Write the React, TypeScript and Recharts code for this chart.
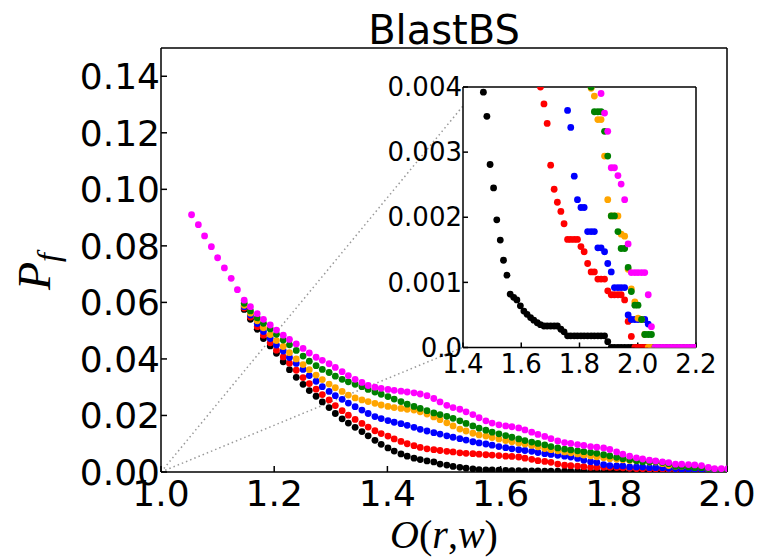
import { ScatterChart, Scatter, XAxis, YAxis, ReferenceLine, CartesianGrid } from 'recharts'

// O(r,w) sample positions shared by every series
const O_GRID = [
  1.054, 1.066, 1.077, 1.089, 1.100, 1.112, 1.124, 1.135, 1.147, 1.158,
  1.170, 1.181, 1.193, 1.204, 1.216, 1.227, 1.239, 1.251, 1.262, 1.274,
  1.285, 1.297, 1.308, 1.320, 1.331, 1.343, 1.355, 1.366, 1.378, 1.389,
  1.401, 1.412, 1.424, 1.435, 1.447, 1.458, 1.470, 1.482, 1.493, 1.505,
  1.516, 1.528, 1.539, 1.551, 1.562, 1.574, 1.585, 1.597, 1.609, 1.620,
  1.632, 1.643, 1.655, 1.666, 1.678, 1.689, 1.701, 1.713, 1.724, 1.736,
  1.747, 1.759, 1.770, 1.782, 1.793, 1.805, 1.816, 1.828, 1.840, 1.851,
  1.863, 1.874, 1.886, 1.897, 1.909, 1.920, 1.932, 1.943, 1.955, 1.967,
  1.978, 1.990, 2.001, 2.013, 2.024, 2.036, 2.047, 2.059, 2.070, 2.082,
  2.093, 2.105, 2.116, 2.128, 2.140, 2.151, 2.163, 2.174, 2.186, 2.197,
]

const pfBlack = [
  null, null, null, null, null, null, null, null, 0.0575, 0.0540,
  0.0505, 0.0472, 0.0446, 0.0420, 0.0390, 0.0362, 0.0335, 0.0310, 0.0288, 0.0268,
  0.0248, 0.0228, 0.0207, 0.0188, 0.0173, 0.0158, 0.0143, 0.0128, 0.0112, 0.0098,
  0.0085, 0.0074, 0.0064, 0.0056, 0.0049, 0.0044, 0.00392, 0.00355, 0.00281, 0.00245,
  0.00196, 0.00165, 0.00134, 0.00111, 0.00082, 0.00077, 0.00073, 0.00064, 0.00056, 0.00051,
  0.00046, 0.00042, 0.00038, 0.00035, 0.00033, 0.00033, 0.00033, 0.00033, 0.00033, 0.00028,
  0.00024, 0.00018, 0.00018, 0.00018, 0.00018, 0.00018, 0.00018, 0.00018, 0.00018, 0.00018,
  0.00018, 0.00018, 0.00018, 0.00009, 0, 0, 0, 0, 0, 0,
  0, 0, 0, 0, 0, 0, 0, 0, 0, 0,
  0, 0, 0, 0, 0, 0, 0, 0, 0, 0,
]

const pfRed = [
  null, null, null, null, null, null, null, null, 0.0580, 0.0548,
  0.0514, 0.0484, 0.0457, 0.0431, 0.0407, 0.0385, 0.0360, 0.0334, 0.0313, 0.0293,
  0.0274, 0.0255, 0.0235, 0.0217, 0.0201, 0.0186, 0.0172, 0.0159, 0.0146, 0.0136,
  0.0127, 0.0117, 0.0108, 0.0100, 0.0093, 0.0087, 0.0082, 0.0079, 0.0076, 0.0073,
  0.0071, 0.0068, 0.0066, 0.0065, 0.0063, 0.0061, 0.0060, 0.0058, 0.0056, 0.0055,
  0.0053, 0.0049, 0.0045, 0.0040, 0.00374, 0.00344, 0.00280, 0.00243, 0.00223, 0.00209,
  0.00190, 0.00166, 0.00166, 0.00166, 0.00166, 0.00155, 0.00147, 0.00129, 0.00116, 0.00116,
  0.00105, 0.00105, 0.00105, 0.00087, 0.00081, 0.00081, 0.00081, 0.00081, 0.00073, 0.00040,
  0.00017, 0, 0, 0, 0, 0, 0, 0, 0, 0,
  0, 0, 0, 0, 0, 0, 0, 0, 0, 0,
]

const pfBlue = [
  null, null, null, null, null, null, null, null, 0.0585, 0.0555,
  0.0525, 0.0497, 0.0472, 0.0449, 0.0428, 0.0405, 0.0384, 0.0363, 0.0341, 0.0321,
  0.0302, 0.0285, 0.0270, 0.0257, 0.0244, 0.0231, 0.0219, 0.0207, 0.0196, 0.0189,
  0.0182, 0.0176, 0.0171, 0.0165, 0.0158, 0.0151, 0.0145, 0.0139, 0.0134, 0.0128,
  0.0123, 0.0118, 0.0113, 0.0107, 0.0103, 0.0099, 0.0095, 0.0090, 0.0086, 0.0082,
  0.0079, 0.0076, 0.0073, 0.0069, 0.0065, 0.0062, 0.0059, 0.0056, 0.0053, 0.0048,
  0.0042, 0.00364, 0.00338, 0.00263, 0.00227, 0.00215, 0.00215, 0.00178, 0.00178, 0.00178,
  0.00153, 0.00153, 0.00147, 0.00129, 0.00116, 0.00092, 0.00092, 0.00092, 0.00092, 0.00050,
  0.00043, 0.00043, 0.00043, 0.00043, 0.00043, 0.00036, 0, 0, 0, 0,
  0, 0, 0, 0, 0, 0, 0, 0, 0, 0,
]

const pfOrange = [
  null, null, null, null, null, null, null, null, 0.0590, 0.0562,
  0.0535, 0.0510, 0.0486, 0.0465, 0.0444, 0.0422, 0.0400, 0.0380, 0.0362, 0.0343,
  0.0327, 0.0311, 0.0298, 0.0285, 0.0272, 0.0262, 0.0255, 0.0249, 0.0243, 0.0237,
  0.0232, 0.0228, 0.0225, 0.0222, 0.0219, 0.0213, 0.0205, 0.0195, 0.0185, 0.0174,
  0.0163, 0.0152, 0.0145, 0.0137, 0.0131, 0.0127, 0.0122, 0.0117, 0.0111, 0.0107,
  0.0103, 0.0099, 0.0094, 0.0089, 0.0083, 0.0079, 0.0075, 0.0071, 0.0068, 0.0064,
  0.0060, 0.0057, 0.0054, 0.0050, 0.0047, 0.0045, 0.0043, 0.0041, 0.00398, 0.00386,
  0.00350, 0.00350, 0.00294, 0.00227, 0.00202, 0.00202, 0.00202, 0.00174, 0.00171, 0.00120,
  0.00090, 0.00070, 0.00045, 0.00043, 0.00020, 0, 0, 0, 0, 0,
  0, 0, 0, 0, 0, 0, 0, 0, 0, 0,
]

const pfGreen = [
  null, null, null, null, null, null, null, null, 0.0597, 0.0570,
  0.0545, 0.0526, 0.0506, 0.0487, 0.0467, 0.0450, 0.0430, 0.0410, 0.0392, 0.0376,
  0.0363, 0.0352, 0.0339, 0.0328, 0.0319, 0.0310, 0.0302, 0.0292, 0.0283, 0.0275,
  0.0267, 0.0258, 0.0249, 0.0240, 0.0232, 0.0225, 0.0217, 0.0209, 0.0203, 0.0197,
  0.0190, 0.0181, 0.0172, 0.0163, 0.0155, 0.0148, 0.0141, 0.0135, 0.0129, 0.0123,
  0.0117, 0.0111, 0.0106, 0.0101, 0.0096, 0.0090, 0.0085, 0.0081, 0.0078, 0.0075,
  0.0072, 0.0069, 0.0066, 0.0061, 0.0057, 0.0052, 0.0047, 0.0043, 0.0040, 0.00362,
  0.00362, 0.00362, 0.00332, 0.00294, 0.00202, 0.00202, 0.00178, 0.00152, 0.00152, 0.00123,
  0.00086, 0.00065, 0.00065, 0.00043, 0.00020, 0.00020, 0.00020, 0, 0, 0,
  0, 0, 0, 0, 0, 0, 0, 0, 0, 0,
]

const pfMagenta = [
  0.0910, 0.0875, 0.0835, 0.0797, 0.0758, 0.0722, 0.0685, 0.0645, 0.0608, 0.0585,
  0.0560, 0.0540, 0.0520, 0.0502, 0.0484, 0.0469, 0.0453, 0.0437, 0.0421, 0.0406,
  0.0395, 0.0383, 0.0370, 0.0355, 0.0341, 0.0328, 0.0317, 0.0306, 0.0300, 0.0296,
  0.0292, 0.0289, 0.0286, 0.0283, 0.0280, 0.0276, 0.0270, 0.0260, 0.0248, 0.0236,
  0.0228, 0.0222, 0.0213, 0.0203, 0.0192, 0.0181, 0.0173, 0.0167, 0.0163, 0.0160,
  0.0156, 0.0149, 0.0141, 0.0133, 0.0126, 0.0118, 0.0110, 0.0104, 0.0101, 0.0097,
  0.0094, 0.0090, 0.0088, 0.0085, 0.0080, 0.0071, 0.0063, 0.0056, 0.0050, 0.0046,
  0.0042, 0.0039, 0.0036, 0.00332, 0.00276, 0.00276, 0.00264, 0.00251, 0.00227, 0.00159,
  0.00115, 0.00115, 0.00115, 0.00115, 0.00115, 0.00081, 0.00032, 0, 0, 0,
  0, 0, 0, 0, 0, 0, 0, 0, 0, 0,
]

const MAIN_X_TICKS = [1.0, 1.2, 1.4, 1.6, 1.8, 2.0]
const MAIN_Y_TICKS = [0, 0.02, 0.04, 0.06, 0.08, 0.1, 0.12, 0.14]
const INSET_X_TICKS = [1.4, 1.6, 1.8, 2.0, 2.2]
const INSET_Y_TICKS = [0, 0.001, 0.002, 0.003, 0.004]

// dotted guides from the origin to the inset's left edge
const GUIDE_UPPER = [{ x: 1.0, y: 0 }, { x: 1.5336, y: 0.1295 }]
const GUIDE_LOWER = [{ x: 1.0, y: 0 }, { x: 1.5336, y: 0.0441 }]

const toPoints = (ys: (number | null)[]) =>
  ys.flatMap((y, i) => (y == null ? [] : [{ x: O_GRID[i], y }]))

// drawing order matters: later series sit on top
const series = [
  { key: 'black', color: '#000000', points: toPoints(pfBlack) },
  { key: 'red', color: '#ff0000', points: toPoints(pfRed) },
  { key: 'blue', color: '#0000ff', points: toPoints(pfBlue) },
  { key: 'orange', color: '#ffa500', points: toPoints(pfOrange) },
  { key: 'green', color: '#008000', points: toPoints(pfGreen) },
  { key: 'magenta', color: '#ff00ff', points: toPoints(pfMagenta) },
]

const dot = (color: string) =>
  // eslint-disable-next-line @typescript-eslint/no-explicit-any
  (props: any) => <circle cx={props.cx} cy={props.cy} r={3.4} fill={color} />

const frame = { stroke: '#000', strokeWidth: 1.5 }
const sans = 'DejaVu Sans'

export default function App() {
  return (
    <div style={{ position: 'absolute', left: 0, top: 0, width: 761, height: 560, background: '#fff' }}>
      {/* main panel */}
      <div style={{ position: 'absolute', left: 0, top: 0 }}>
        <ScatterChart width={761} height={560} margin={{ top: 47, right: 33, bottom: 0, left: 0 }}>
          <XAxis
            xAxisId="b" type="number" dataKey="x" domain={[1, 2]} ticks={MAIN_X_TICKS}
            allowDataOverflow interval={0} height={88} tickSize={-6} tickMargin={14}
            axisLine={frame} tickLine={frame}
            tick={{ fill: '#000', fontSize: 36, fontFamily: sans }}
            tickFormatter={(v: number) => v.toFixed(1)}
          />
          <XAxis
            xAxisId="t" orientation="top" type="number" domain={[1, 2]} ticks={MAIN_X_TICKS}
            allowDataOverflow interval={0} height={1} tickSize={-6}
            axisLine={frame} tickLine={frame} tick={false}
          />
          <YAxis
            yAxisId="l" type="number" dataKey="y" domain={[0, 0.15]} ticks={MAIN_Y_TICKS}
            allowDataOverflow interval={0} width={161} tickSize={-6} tickMargin={7}
            axisLine={frame} tickLine={frame}
            tick={{ fill: '#000', fontSize: 36, fontFamily: sans }}
            tickFormatter={(v: number) => v.toFixed(2)}
          />
          <YAxis
            yAxisId="r" orientation="right" type="number" domain={[0, 0.15]} ticks={MAIN_Y_TICKS}
            allowDataOverflow interval={0} width={1} tickSize={-6}
            axisLine={frame} tickLine={frame} tick={false}
          />
          <ReferenceLine xAxisId="b" yAxisId="l" segment={GUIDE_UPPER} stroke="#999" strokeWidth={1.5} strokeDasharray="1.5 3" />
          <ReferenceLine xAxisId="b" yAxisId="l" segment={GUIDE_LOWER} stroke="#999" strokeWidth={1.5} strokeDasharray="1.5 3" />
          {series.map(s => (
            <Scatter
              key={s.key} xAxisId="b" yAxisId="l" data={s.points} fill={s.color}
              shape={dot(s.color)} isAnimationActive={false}
            />
          ))}
        </ScatterChart>
      </div>

      {/* zoomed inset */}
      <div style={{ position: 'absolute', left: 360, top: 70 }}>
        <ScatterChart width={380} height={320} margin={{ top: 16, right: 43, bottom: 0, left: 0 }}>
          <CartesianGrid xAxisId="b" yAxisId="l" horizontal={false} vertical={false} fill="#fff" />
          <XAxis
            xAxisId="b" type="number" dataKey="x" domain={[1.4, 2.2]} ticks={INSET_X_TICKS}
            allowDataOverflow interval={0} height={42.5} tickSize={-5} tickMargin={12.5}
            axisLine={frame} tickLine={frame}
            tick={{ fill: '#000', fontSize: 26, fontFamily: sans }}
            tickFormatter={(v: number) => v.toFixed(1)}
          />
          <XAxis
            xAxisId="t" orientation="top" type="number" domain={[1.4, 2.2]} ticks={INSET_X_TICKS}
            allowDataOverflow interval={0} height={1} tickSize={-5}
            axisLine={frame} tickLine={frame} tick={false}
          />
          <YAxis
            yAxisId="l" type="number" dataKey="y" domain={[0, 0.004]} ticks={INSET_Y_TICKS}
            allowDataOverflow interval={0} width={103} tickSize={-5} tickMargin={6}
            axisLine={frame} tickLine={frame}
            tick={{ fill: '#000', fontSize: 26, fontFamily: sans }}
            tickFormatter={(v: number) => (v === 0 ? '0.0' : v.toFixed(3))}
          />
          <YAxis
            yAxisId="r" orientation="right" type="number" domain={[0, 0.004]} ticks={INSET_Y_TICKS}
            allowDataOverflow interval={0} width={1} tickSize={-5}
            axisLine={frame} tickLine={frame} tick={false}
          />
          {series.map(s => (
            <Scatter
              key={s.key} xAxisId="b" yAxisId="l" data={s.points} fill={s.color}
              shape={dot(s.color)} isAnimationActive={false}
            />
          ))}
        </ScatterChart>
      </div>

      {/* title and axis labels */}
      <svg width={761} height={560} style={{ position: 'absolute', left: 0, top: 0, pointerEvents: 'none' }}>
        <text x={444} y={44} textAnchor="middle" fontFamily={sans} fontSize={40} fill="#000">BlastBS</text>
        <text x={444} y={548} textAnchor="middle" fontFamily="Liberation Serif" fontSize={40} fill="#000">
          <tspan fontStyle="italic">O</tspan>(<tspan fontStyle="italic">r</tspan>,<tspan fontStyle="italic">w</tspan>)
        </text>
        <text transform="translate(50,290) rotate(-90)" fontFamily="Liberation Serif" fontStyle="italic" fontSize={46} fill="#000">
          P<tspan fontSize={32} dy={9}>f</tspan>
        </text>
      </svg>
    </div>
  )
}
